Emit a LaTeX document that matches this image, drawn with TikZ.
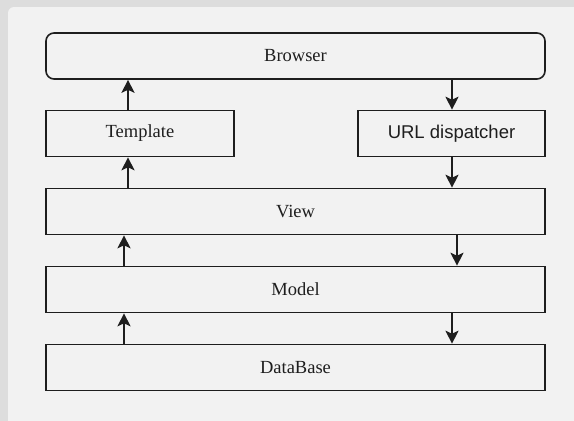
\documentclass[tikz,border=0pt]{standalone}
\usepackage{fontspec}
\setmainfont{Liberation Serif}
\newfontfamily\urlfont{Liberation Sans}
\usetikzlibrary{arrows.meta}
\definecolor{outerbg}{RGB}{221,221,221}
\definecolor{panelbg}{RGB}{242,242,242}
\definecolor{linecol}{RGB}{30,30,30}
\begin{document}
\begin{tikzpicture}[x=1pt, y=-1pt,
		layer/.style={draw=linecol, line width=1.6pt, minimum height=46pt, inner sep=0pt, font=\fontsize{18.5}{20}\selectfont, text=linecol},
		flow/.style={draw=linecol, line width=1.6pt, -{Stealth[length=13pt, width=13pt, inset=3pt]}}]
			\useasboundingbox (0,0) rectangle (574,421);
			\fill[outerbg] (0,0) rectangle (574,421);
			\fill[panelbg, rounded corners=6pt] (8,7) rectangle (590,440);
			\node[layer, rounded corners=8pt, minimum width=499pt] (browser) at (295.5,56){Browser};
			\node[layer, minimum width=188pt] (template) at (140,133.5){Template};
			\node[layer, minimum width=187pt, font=\urlfont\fontsize{18.5}{20}\selectfont] (dispatcher) at (451.5,133.5){URL dispatcher};
			\node[layer, minimum width=499pt] (view) at (295.5,211.5){View};
			\node[layer, minimum width=499pt] (model) at (295.5,289.5){Model};
			\node[layer, minimum width=499pt] (database) at (295.5,367.5){DataBase};
			\coordinate (upa) at (128,0);
			\coordinate (upb) at (124,0);
			\coordinate (downa) at (452,0);
			\coordinate (downb) at (457,0);
			\draw[flow] (template.north -| upa) -- (browser.south -| upa);
			\draw[flow] (browser.south -| downa) -- (dispatcher.north -| downa);
			\draw[flow] (view.north -| upa) -- (template.south -| upa);
			\draw[flow] (dispatcher.south -| downa) -- (view.north -| downa);
			\draw[flow] (model.north -| upb) -- (view.south -| upb);
			\draw[flow] (view.south -| downb) -- (model.north -| downb);
			\draw[flow] (database.north -| upb) -- (model.south -| upb);
			\draw[flow] (model.south -| downa) -- (database.north -| downa);
		\end{tikzpicture}
\end{document}
